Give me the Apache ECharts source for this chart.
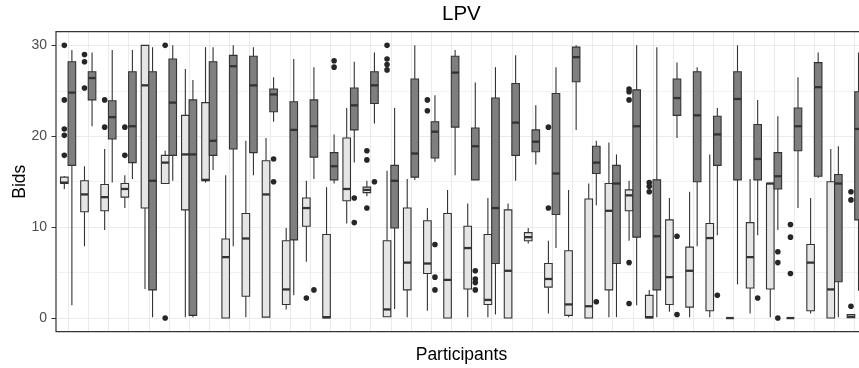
<!DOCTYPE html>
<html>
<head>
<meta charset="utf-8">
<script src="https://cdn.jsdelivr.net/npm/echarts@6/dist/echarts.min.js"></script>
<style>
html,body{margin:0;padding:0;background:#ffffff;}
#c{width:859px;height:368px;}
</style>
</head>
<body>
<div id="c"></div>
<script>
// ---- data ----
const participants = ['1','2','3','4','5','6','7','8','9','10','11','12','13','14','15','16','17','18','19','20',
  '21','22','23','24','25','26','27','28','29','30','31','32','33','34','35','36','37','38','39','40'];

// [lower whisker, Q1, median, Q3, upper whisker] — light boxes
const lightBids = [
  [14.2, 14.8, 14.9, 15.5, 15.6],
  [7.9, 11.7, 13.6, 15.1, 16.7],
  [9.7, 11.8, 13.3, 14.7, 18.6],
  [12.1, 13.3, 14.2, 14.8, 15.7],
  [3.2, 12.1, 25.6, 30.0, 30.0],
  [14.8, 14.8, 17.1, 17.9, 18.4],
  [0.1, 11.9, 18.0, 22.3, 27.4],
  [14.9, 15.1, 15.2, 23.7, 29.8],
  [0, 0, 6.7, 8.7, 15.7],
  [0.1, 2.4, 8.75, 11.5, 19.5],
  [0.1, 0.1, 13.6, 17.3, 19.8],
  [0.95, 1.5, 3.15, 8.5, 9.9],
  [6.2, 10.1, 12.1, 13.2, 15.1],
  [0, 0, 0.1, 9.2, 14.4],
  [10.4, 12.9, 14.2, 19.8, 23.1],
  [13.4, 13.8, 14.1, 14.4, 15.1],
  [0.15, 0.15, 0.95, 8.5, 16.2],
  [0.1, 3.1, 6.1, 12.1, 15.3],
  [0.8, 4.9, 6.0, 10.7, 12.1],
  [0, 0, 4.2, 11.5, 14.1],
  [0.1, 3.2, 7.7, 10.1, 12.6],
  [0.1, 1.5, 2.0, 9.2, 13.2],
  [0, 0, 5.2, 11.9, 12.6],
  [8.2, 8.5, 8.9, 9.4, 9.9],
  [0.5, 3.4, 4.3, 6.0, 8.5],
  [0.1, 0.3, 1.5, 7.4, 14.1],
  [0, 0, 1.3, 13.1, 14.8],
  [0.1, 3.1, 11.8, 14.8, 19.3],
  [8.5, 11.8, 13.5, 14.1, 15.1],
  [0, 0, 0.1, 2.5, 3.1],
  [0.7, 1.5, 4.5, 10.8, 13.2],
  [0.1, 1.2, 5.2, 7.8, 13.9],
  [0.1, 0.8, 8.8, 10.4, 18.0],
  [0, 0, 0, 0, 0],
  [0.5, 3.3, 6.7, 10.5, 15.3],
  [0.1, 3.2, 14.8, 14.8, 14.8],
  [0, 0, 0, 0, 0],
  [0.5, 0.8, 6.1, 8.1, 13.2],
  [0, 0, 3.15, 15.0, 18.6],
  [0.04, 0.04, 0.15, 0.4, 0.4]
];

// [lower whisker, Q1, median, Q3, upper whisker] — dark boxes
const darkBids = [
  [1.4, 16.8, 24.8, 28.2, 29.5],
  [21.1, 24.0, 26.4, 27.1, 29.2],
  [14.9, 19.7, 22.1, 23.9, 29.5],
  [15.3, 17.1, 21.1, 27.1, 29.5],
  [0.1, 3.1, 15.1, 27.1, 29.8],
  [15.1, 17.9, 23.7, 28.5, 30.0],
  [0.1, 0.3, 18.0, 24.0, 26.2],
  [16.3, 17.9, 19.5, 28.2, 29.8],
  [7.9, 18.6, 27.7, 28.9, 30.0],
  [15.7, 18.2, 25.6, 28.8, 29.8],
  [21.6, 22.7, 24.6, 25.2, 26.5],
  [2.5, 8.6, 20.7, 23.8, 28.5],
  [15.3, 17.7, 21.1, 24.0, 27.6],
  [14.8, 15.2, 16.7, 18.2, 20.2],
  [17.1, 20.7, 23.4, 25.3, 28.2],
  [21.4, 23.6, 25.6, 27.1, 29.2],
  [1.0, 9.9, 15.1, 16.8, 23.1],
  [15.2, 15.5, 18.1, 26.3, 30.0],
  [17.2, 17.6, 20.5, 21.6, 24.5],
  [15.7, 21.0, 27.0, 28.8, 29.5],
  [15.2, 15.2, 18.9, 20.9, 25.9],
  [0.4, 6.0, 12.1, 24.2, 27.6],
  [15.1, 17.9, 21.5, 25.8, 28.9],
  [16.9, 18.3, 19.4, 20.7, 23.4],
  [7.7, 11.4, 15.9, 24.7, 27.6],
  [20.7, 26.0, 28.7, 29.8, 30.0],
  [12.4, 15.9, 17.1, 18.9, 19.5],
  [0.1, 6.0, 14.8, 16.8, 18.0],
  [1.4, 8.9, 21.1, 25.1, 30.0],
  [0.1, 3.1, 9.0, 15.2, 29.8],
  [19.8, 22.3, 24.2, 26.3, 28.1],
  [7.9, 15.0, 22.3, 27.1, 27.6],
  [9.1, 16.8, 20.2, 22.2, 23.1],
  [3.7, 15.2, 24.1, 27.1, 30.0],
  [9.1, 15.2, 17.5, 21.3, 24.0],
  [9.7, 14.2, 15.6, 18.2, 22.2],
  [12.1, 18.4, 21.1, 23.1, 26.5],
  [15.4, 15.6, 25.4, 28.1, 29.2],
  [0.1, 4.0, 14.8, 15.8, 18.9],
  [3.0, 10.8, 20.8, 24.9, 29.2]
];

// [participant index, bid]
const lightOutliers = [
  [0, 30], [0, 24.0], [0, 20.8], [0, 20.1], [0, 17.9],
  [1, 29.0], [1, 28.2], [1, 25.3],
  [2, 24.0], [2, 21.0],
  [3, 21.0], [3, 17.9],
  [5, 30], [5, 0],
  [12, 2.2],
  [15, 18.4], [15, 17.4], [15, 12.1],
  [16, 30], [16, 28.5], [16, 27.9], [16, 27.3],
  [18, 24.0], [18, 22.8],
  [24, 21.0], [24, 12.1],
  [28, 25.2], [28, 24.9], [28, 24.0], [28, 6.1], [28, 1.6],
  [29, 14.9], [29, 14.5], [29, 13.9],
  [36, 10.3], [36, 8.9], [36, 4.9],
  [39, 13.9], [39, 13.0], [39, 1.3]
];
const darkOutliers = [
  [10, 17.5], [10, 15.0],
  [12, 3.1],
  [13, 28.3], [13, 27.6],
  [14, 13.2], [14, 10.5],
  [15, 15.0],
  [18, 8.1], [18, 4.5], [18, 3.1],
  [20, 5.2], [20, 4.3], [20, 3.9], [20, 3.1],
  [26, 1.8],
  [30, 9.0], [30, 0.4],
  [32, 2.5],
  [34, 2.2],
  [35, 7.3], [35, 6.1], [35, 0]
];

const yTicks = [0, 10, 20, 30];

// ---- drawing ----
const FONT = "'Liberation Sans', Arial, Helvetica, sans-serif";
const STROKE = '#333333';
const DODGE = 0.1875;   // fraction of category band
const BOXW = 0.375;     // fraction of category band

function boxRenderer(side, fill) {
  return function (params, api) {
    const k = api.value(0);
    const band = api.size([1, 0])[0];
    const w = band * BOXW;
    const cx = api.coord([k, 0])[0] + side * band * DODGE;
    const yLo = api.coord([k, api.value(1)])[1];
    const yQ1 = api.coord([k, api.value(2)])[1];
    const yMed = api.coord([k, api.value(3)])[1];
    const yQ3 = api.coord([k, api.value(4)])[1];
    const yHi = api.coord([k, api.value(5)])[1];
    return {
      type: 'group',
      children: [
        { type: 'line', shape: { x1: cx, y1: yHi, x2: cx, y2: yQ3 }, style: { stroke: STROKE, lineWidth: 1.1 } },
        { type: 'line', shape: { x1: cx, y1: yQ1, x2: cx, y2: yLo }, style: { stroke: STROKE, lineWidth: 1.1 } },
        { type: 'rect', shape: { x: cx - w / 2, y: yQ3, width: w, height: yQ1 - yQ3 }, style: { fill: fill, stroke: STROKE, lineWidth: 1.1 } },
        { type: 'line', shape: { x1: cx - w / 2, y1: yMed, x2: cx + w / 2, y2: yMed }, style: { stroke: STROKE, lineWidth: 2.3 } }
      ]
    };
  };
}

function outlierRenderer(side) {
  return function (params, api) {
    const band = api.size([1, 0])[0];
    const p = api.coord([api.value(0), api.value(1)]);
    return { type: 'circle', shape: { cx: p[0] + side * band * DODGE, cy: p[1], r: 2.8 }, style: { fill: '#262626' } };
  };
}

const chart = echarts.init(document.getElementById('c'));
const option = {
  animation: false,
  backgroundColor: '#ffffff',
  title: {
    text: 'LPV', left: 461.4, top: 4, textAlign: 'center', padding: 0,
    textStyle: { fontFamily: FONT, fontSize: 20.5, fontWeight: 'normal', color: '#000000' }
  },
  grid: { left: 58.02, top: 31.7, width: 806.8, height: 300, containLabel: false, outerBoundsMode: 'none' },
  xAxis: {
    type: 'category', data: participants, boundaryGap: true,
    axisLine: { show: false }, axisTick: { show: false }, axisLabel: { show: false },
    splitLine: { show: true, alignWithLabel: true, lineStyle: { color: '#ebebeb', width: 1.1 } },
    name: 'Participants', nameLocation: 'middle', nameGap: 14.5,
    nameTextStyle: { fontFamily: FONT, fontSize: 17.5, color: '#000000' }
  },
  yAxis: {
    type: 'value', min: -1.5, max: 31.5, splitNumber: 3, offset: 2,
    axisLine: { show: false },
    axisTick: { show: true, length: 4.5, customValues: yTicks, lineStyle: { color: STROKE, width: 1 } },
    axisLabel: { customValues: yTicks, margin: 9, fontFamily: FONT, fontSize: 14, color: '#4d4d4d' },
    splitLine: { show: true, lineStyle: { color: '#ebebeb', width: 1.1 } },
    minorTick: { show: false, splitNumber: 2 },
    minorSplitLine: { show: true, lineStyle: { color: '#efefef', width: 0.8 } },
    name: 'Bids', nameLocation: 'middle', nameGap: 26.5, nameRotate: 90, nameMoveOverlap: false,
    nameTextStyle: { fontFamily: FONT, fontSize: 17.5, color: '#000000' }
  },
  graphic: [{
    type: 'rect', z: 100, silent: true,
    shape: { x: 56, y: 31.7, width: 810.8, height: 300 },
    style: { fill: 'none', stroke: STROKE, lineWidth: 1.2 }
  }],
  series: [
    {
      type: 'custom', name: 'light', renderItem: boxRenderer(-1, '#e5e5e5'),
      encode: { x: 0, y: [1, 2, 3, 4, 5] },
      data: lightBids.map((s, i) => [i].concat(s)), z: 2
    },
    {
      type: 'custom', name: 'dark', renderItem: boxRenderer(1, '#7f7f7f'),
      encode: { x: 0, y: [1, 2, 3, 4, 5] },
      data: darkBids.map((s, i) => [i].concat(s)), z: 3
    },
    {
      type: 'custom', name: 'light outliers', renderItem: outlierRenderer(-1),
      encode: { x: 0, y: 1 }, data: lightOutliers, z: 4
    },
    {
      type: 'custom', name: 'dark outliers', renderItem: outlierRenderer(1),
      encode: { x: 0, y: 1 }, data: darkOutliers, z: 4
    }
  ]
};
chart.setOption(option);
</script>
</body>
</html>
